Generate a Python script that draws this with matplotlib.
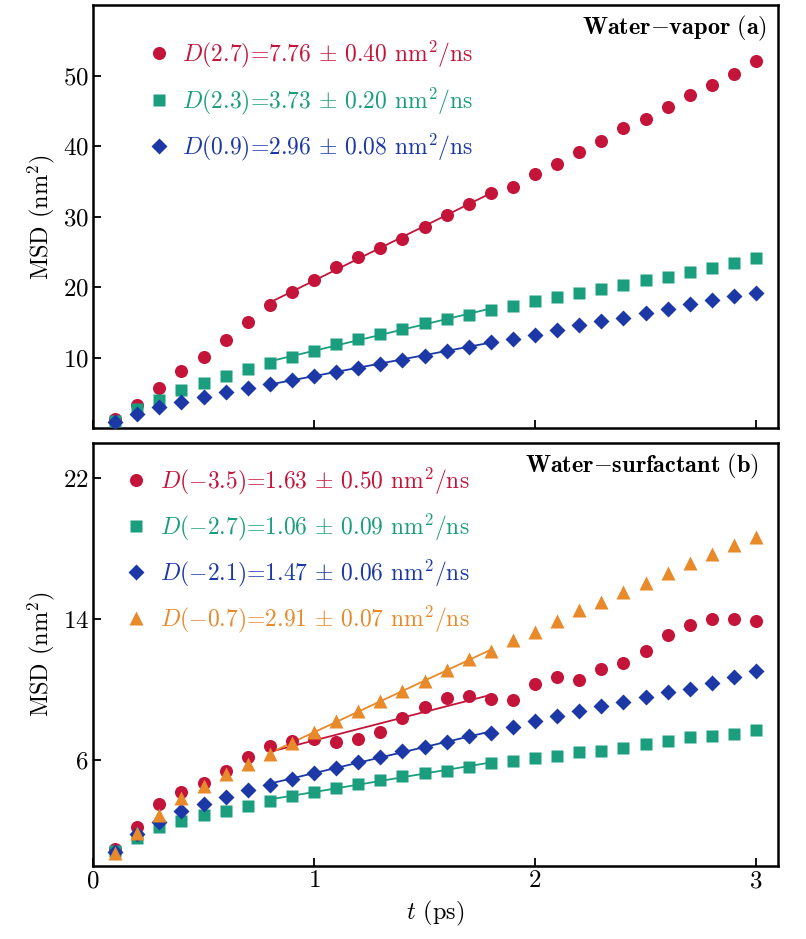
import numpy as np
import matplotlib
matplotlib.use("Agg")
import matplotlib.pyplot as plt

plt.rcParams['font.family'] = 'serif'
plt.rcParams['font.serif'] = ['cmr10', 'DejaVu Serif']
plt.rcParams['mathtext.fontset'] = 'cm'
plt.rcParams['axes.formatter.use_mathtext'] = True

# time (ps)
t = np.round(np.arange(1, 31) * 0.1, 1)

# panel (a) water-vapor
vap_red = [1.3, 3.3, 5.8, 8.1, 10.1, 12.5, 15.1, 17.5, 19.3, 21.1, 22.9, 24.3, 25.6, 26.9, 28.5,
           30.3, 31.8, 33.3, 34.2, 36.0, 37.5, 39.2, 40.7, 42.6, 43.8, 45.6, 47.3, 48.6, 50.2, 52.0]
vap_green = [1.1, 2.7, 4.1, 5.4, 6.5, 7.4, 8.4, 9.3, 10.1, 11.0, 11.9, 12.7, 13.4, 14.1, 14.9,
             15.5, 16.1, 16.8, 17.4, 18.0, 18.6, 19.2, 19.7, 20.3, 21.0, 21.5, 22.1, 22.8, 23.4, 24.1]
vap_blue = [0.9, 2.0, 3.0, 3.7, 4.4, 5.1, 5.7, 6.3, 6.9, 7.4, 8.0, 8.6, 9.1, 9.7, 10.3,
            11.0, 11.6, 12.3, 12.7, 13.3, 13.9, 14.6, 15.2, 15.7, 16.3, 16.9, 17.6, 18.2, 18.7, 19.2]
vap_labels = [r"$D$(2.7)=7.76 $\pm$ 0.40 nm$^2$/ns",
              r"$D$(2.3)=3.73 $\pm$ 0.20 nm$^2$/ns",
              r"$D$(0.9)=2.96 $\pm$ 0.08 nm$^2$/ns"]

# panel (b) water-surfactant
sur_red = [0.95, 2.2, 3.5, 4.2, 4.7, 5.4, 6.2, 6.8, 7.1, 7.2, 7.05, 7.2, 7.6, 8.4, 9.0,
           9.55, 9.65, 9.45, 9.4, 10.35, 10.7, 10.55, 11.15, 11.5, 12.2, 13.1, 13.7, 14.0, 14.0, 13.9]
sur_green = [0.85, 1.6, 2.2, 2.55, 2.9, 3.1, 3.4, 3.7, 3.95, 4.2, 4.45, 4.65, 4.85, 5.1, 5.3,
             5.4, 5.6, 5.85, 5.95, 6.1, 6.25, 6.45, 6.55, 6.7, 6.9, 7.1, 7.3, 7.35, 7.5, 7.7]
sur_blue = [0.8, 1.8, 2.5, 3.1, 3.5, 3.9, 4.3, 4.6, 4.95, 5.3, 5.55, 5.9, 6.2, 6.5, 6.75,
            7.05, 7.35, 7.55, 7.9, 8.2, 8.5, 8.8, 9.05, 9.3, 9.6, 9.85, 10.05, 10.4, 10.75, 11.05]
sur_orange = [0.75, 1.85, 2.9, 3.85, 4.55, 5.2, 5.8, 6.35, 7.0, 7.6, 8.2, 8.8, 9.35, 9.9, 10.5,
              11.1, 11.75, 12.2, 12.8, 13.3, 13.9, 14.5, 15.0, 15.55, 16.05, 16.6, 17.2, 17.7, 18.2, 18.65]
sur_labels = [r"$D$($-$3.5)=1.63 $\pm$ 0.50 nm$^2$/ns",
              r"$D$($-$2.7)=1.06 $\pm$ 0.09 nm$^2$/ns",
              r"$D$($-$2.1)=1.47 $\pm$ 0.06 nm$^2$/ns",
              r"$D$($-$0.7)=2.91 $\pm$ 0.07 nm$^2$/ns"]

fit_lo, fit_hi = 0.8, 1.8

red, green, blue, orange = '#c4143a', '#1a9e7e', '#1b38a6', '#e8892a'
TICK_FS = 18
LAB_FS = 17.5
LEG_FS = 17


def draw(ax, series, labels, styles):
    mask = (t >= fit_lo - 1e-9) & (t <= fit_hi + 1e-9)
    for y, lab, (c, m, ms) in zip(series, labels, styles):
        y = np.array(y)
        p = np.polyfit(t[mask], y[mask], 1)
        ax.plot(t[mask], np.polyval(p, t[mask]), '-', color=c, lw=1.3, zorder=2)
        ax.plot(t, y, linestyle='none', marker=m, ms=ms, color=c, mec='none', label=lab, zorder=3)


fig = plt.figure(figsize=(8.06, 9.39), dpi=100)
ax1 = fig.add_axes([0.1154, 0.5437, 0.85, 0.4510])
ax2 = fig.add_axes([0.1154, 0.0778, 0.85, 0.4504])

draw(ax1, [vap_red, vap_green, vap_blue], vap_labels,
     [(red, 'o', 9.4), (green, 's', 8), (blue, 'D', 8)])
draw(ax2, [sur_red, sur_green, sur_blue, sur_orange], sur_labels,
     [(red, 'o', 9.4), (green, 's', 8), (blue, 'D', 8), (orange, '^', 10.5)])

ax1.set_xlim(0, 3.1)
ax1.set_ylim(0, 60)
ax1.set_yticks([10, 20, 30, 40, 50])
ax1.set_xticks([0, 1, 2, 3])
ax1.tick_params(labelbottom=False)

ax2.set_xlim(0, 3.1)
ax2.set_ylim(0, 24)
ax2.set_yticks([6, 14, 22])
ax2.set_xticks([0, 1, 2, 3])

for ax in (ax1, ax2):
    ax.tick_params(direction='in', length=6, width=1.3, labelsize=TICK_FS, pad=3)
    for s in ax.spines.values():
        s.set_linewidth(1.8)
    ax.set_ylabel(r"MSD (nm$^2$)", fontsize=LAB_FS, labelpad=4)

ax2.set_xlabel(r"$t$ (ps)", fontsize=LAB_FS, labelpad=5)

ax1.text(0.984, 0.944, r"$\mathbf{Water{-}vapor\ (a)}$", transform=ax1.transAxes,
         ha='right', va='center', fontsize=17.5)
ax2.text(0.972, 0.944, r"$\mathbf{Water{-}surfactant\ (b)}$", transform=ax2.transAxes,
         ha='right', va='center', fontsize=17.5)

for ax, anchor, sp in ((ax1, (0.075, 0.932), 0.66), (ax2, (0.042, 0.958), 0.63)):
    ax.legend(loc='upper left', bbox_to_anchor=anchor, frameon=False, fontsize=LEG_FS,
              handlelength=0.8, handletextpad=0.6, labelspacing=sp,
              borderaxespad=0.0, borderpad=0.2, labelcolor='linecolor')

fig.savefig('out.png', dpi=100)
